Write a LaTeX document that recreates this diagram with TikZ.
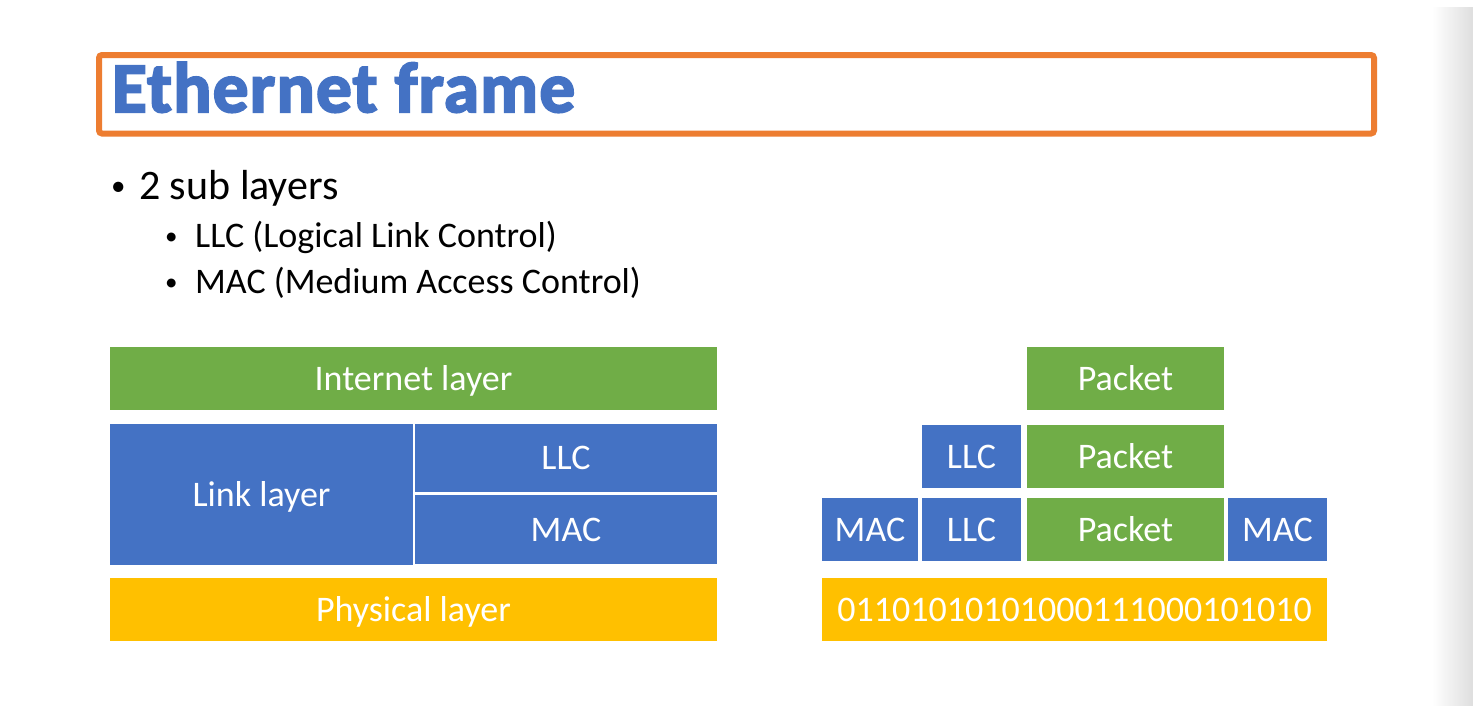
\documentclass[tikz,border=0pt]{standalone}
\usepackage{fontspec}
\setmainfont{Carlito}
\usetikzlibrary{shadings}
\definecolor{cgreen}{HTML}{70AD47}
\definecolor{cblue}{HTML}{4472C4}
\definecolor{cyellow}{HTML}{FFC000}
\definecolor{corange}{HTML}{ED7D31}
\newfontfamily\titlefont[FakeBold=3,LetterSpace=2]{Carlito Bold}
\begin{document}
\begin{tikzpicture}[x=1pt,y=-1pt,
  blk/.style={anchor=north west, inner sep=0pt, outer sep=0pt, text=white,
    text height=23pt, text depth=0pt, font=\fontsize{36}{40}\selectfont},
  bul/.style={anchor=base west, inner sep=0pt, text=black}]
\useasboundingbox (0,0) rectangle (1473,705);
\fill[white] (0,0) rectangle (1473,705);
% shaded strip at the right edge
\shade[left color=white, right color=black!13] (1432,7) rectangle (1473,705);

% title frame
\draw[corange, line width=6pt, rounded corners=3pt] (99,55) rectangle (1374,133.5);
\node[anchor=base west, inner sep=0pt, text=cblue,
  font=\titlefont\fontsize{71}{74}\selectfont] (title) at (112,112) {Ethernet frame};

% bullet list
\node[bul, font=\fontsize{29}{32}\selectfont] (b1) at (111,195) {•};
\node[bul, font=\fontsize{42}{46}\selectfont] (t1) at (139,199) {2 sub layers};
\node[bul, font=\fontsize{25}{28}\selectfont] (b2) at (165,244) {•};
\node[bul, font=\fontsize{36}{40}\selectfont] (t2) at (195,247) {LLC (Logical Link Control)};
\node[bul, font=\fontsize{25}{28}\selectfont] (b3) at (165,290) {•};
\node[bul, font=\fontsize{36}{40}\selectfont] (t3) at (195,293) {MAC (Medium Access Control)};

% layer stack
\node[blk, fill=cgreen, minimum width=607pt, minimum height=63pt] (inet) at (110,347) {Internet layer};
\node[blk, fill=cblue, minimum width=303pt, minimum height=141pt] (link) at (110,424) {Link layer};
\node[blk, fill=cblue, minimum width=302pt, minimum height=68pt] (llc) at (415,424) {LLC};
\node[blk, fill=cblue, minimum width=302pt, minimum height=69pt] (mac) at (415,495) {MAC};
\node[blk, fill=cyellow, minimum width=607pt, minimum height=63pt] (phys) at (110,578) {Physical layer};

% encapsulation
\node[blk, fill=cgreen, minimum width=197pt, minimum height=63pt] (pkta) at (1027,347) {Packet};
\node[blk, fill=cblue, minimum width=99pt, minimum height=63pt] (llcb) at (922,425) {LLC};
\node[blk, fill=cgreen, minimum width=197pt, minimum height=63pt] (pktb) at (1027,425) {Packet};
\node[blk, fill=cblue, minimum width=96pt, minimum height=63pt] (macc) at (822,498) {MAC};
\node[blk, fill=cblue, minimum width=99pt, minimum height=63pt] (llcc) at (922,498) {LLC};
\node[blk, fill=cgreen, minimum width=197pt, minimum height=63pt] (pktc) at (1027,498) {Packet};
\node[blk, fill=cblue, minimum width=99pt, minimum height=63pt] (macd) at (1228,498) {MAC};
\node[blk, fill=cyellow, minimum width=505pt, minimum height=63pt] (bits) at (822,578) {01101010101000111000101010};
\end{tikzpicture}
\end{document}
